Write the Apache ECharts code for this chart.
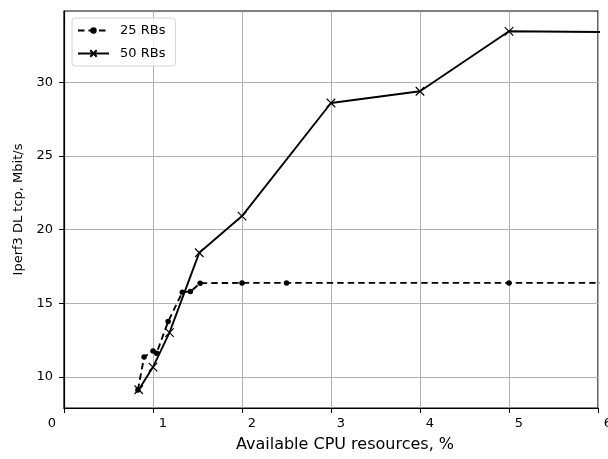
<!DOCTYPE html>
<html>
<head>
<meta charset="utf-8">
<script src="https://cdn.jsdelivr.net/npm/echarts@6/dist/echarts.min.js"></script>
<style>html,body{margin:0;padding:0;background:#fff}#c{width:608px;height:459px}</style>
</head>
<body>
<div id="c"></div>
<script>
const seriesNames = ['25 RBs', '50 RBs'];
const rb25X = [0.83, 0.90, 1.00, 1.04, 1.17, 1.33, 1.42, 1.53, 2.0, 2.5, 5.0, 7.0];
const rb25Y = [9.10, 11.34, 11.76, 11.60, 13.75, 15.75, 15.79, 16.36, 16.38, 16.38, 16.38, 16.38];
const rb50X = [0.84, 1.00, 1.185, 1.52, 2.0, 3.0, 4.0, 5.0, 7.0];
const rb50Y = [9.12, 10.66, 13.0, 18.43, 20.92, 28.6, 29.4, 33.47, 33.37];
const xTicks = [0, 1, 2, 3, 4, 5, 6];
const yTicks = [10, 15, 20, 25, 30];
const xTitle = 'Available CPU resources, %';
const yTitle = 'Iperf3 DL tcp, Mbit/s';

const font = 'DejaVu Sans';
const pts = (xs, ys) => xs.map((x, i) => [x, ys[i]]);

const chart = echarts.init(document.getElementById('c'), null, {renderer: 'canvas'});
chart.setOption({
  animation: false,
  backgroundColor: '#fff',
  grid: {left: 64, right: 10, top: 11, bottom: 51, show: true, borderColor: '#000', borderWidth: 1.2,
         containLabel: false, outerBoundsMode: 'none'},
  legend: {
    show: true, orient: 'vertical', left: 72, top: 18,
    padding: [6, 10, 6, 5], itemGap: 10, itemWidth: 31, itemHeight: 8,
    backgroundColor: 'rgba(255,255,255,0.8)', borderColor: '#d6d6d6', borderWidth: 1, borderRadius: 3,
    textStyle: {fontFamily: font, fontSize: 13, color: '#000', padding: [0, 0, 0, 6]},
    data: seriesNames
  },
  xAxis: {
    type: 'value', min: 0, max: 6, interval: 1,
    name: xTitle, nameLocation: 'middle', nameGap: 29,
    nameTextStyle: {fontFamily: font, fontSize: 16, color: '#000', padding: [0, 0, 0, 28]},
    axisLine: {show: true, onZero: false, lineStyle: {color: '#000', width: 1.2}},
    axisTick: {show: true, length: 5, lineStyle: {color: '#000'}, customValues: xTicks},
    axisLabel: {
      margin: 9, color: '#000', fontFamily: font, fontSize: 13,
      formatter: v => v === 0 ? '{a|0}' : '{b|' + v + '}',
      rich: {a: {fontFamily: font, fontSize: 13, color: '#000', padding: [0, 24, 0, 0]},
             b: {fontFamily: font, fontSize: 13, color: '#000', padding: [0, 0, 0, 20]}}
    },
    splitLine: {show: true, lineStyle: {color: '#b0b0b0', width: 1}}
  },
  yAxis: {
    type: 'value', min: 7.88, max: 34.85,
    name: yTitle, nameLocation: 'middle', nameGap: 39,
    nameTextStyle: {fontFamily: font, fontSize: 13, color: '#000'},
    axisLine: {show: true, onZero: false, lineStyle: {color: '#000', width: 1.2}},
    axisTick: {show: true, length: 5, lineStyle: {color: '#000'}, customValues: yTicks},
    axisLabel: {margin: 11, color: '#000', fontFamily: font, fontSize: 13, customValues: yTicks},
    splitLine: {show: true, lineStyle: {color: '#b0b0b0', width: 1}}
  },
  series: [
    {
      name: seriesNames[0], type: 'line', data: pts(rb25X, rb25Y), clip: true,
      symbol: 'circle', symbolSize: 5.5, showSymbol: true,
      itemStyle: {color: '#000'},
      lineStyle: {color: '#000', width: 1.9, type: [6.5, 4]}
    },
    {
      name: seriesNames[1], type: 'line', data: pts(rb50X, rb50Y), clip: true,
      symbol: 'path://M0,0L10,10M10,0L0,10', symbolSize: 8.5, showSymbol: true,
      itemStyle: {color: 'none', borderColor: '#000', borderWidth: 1.2},
      lineStyle: {color: '#000', width: 1.9}
    }
  ]
});
</script>
</body>
</html>
